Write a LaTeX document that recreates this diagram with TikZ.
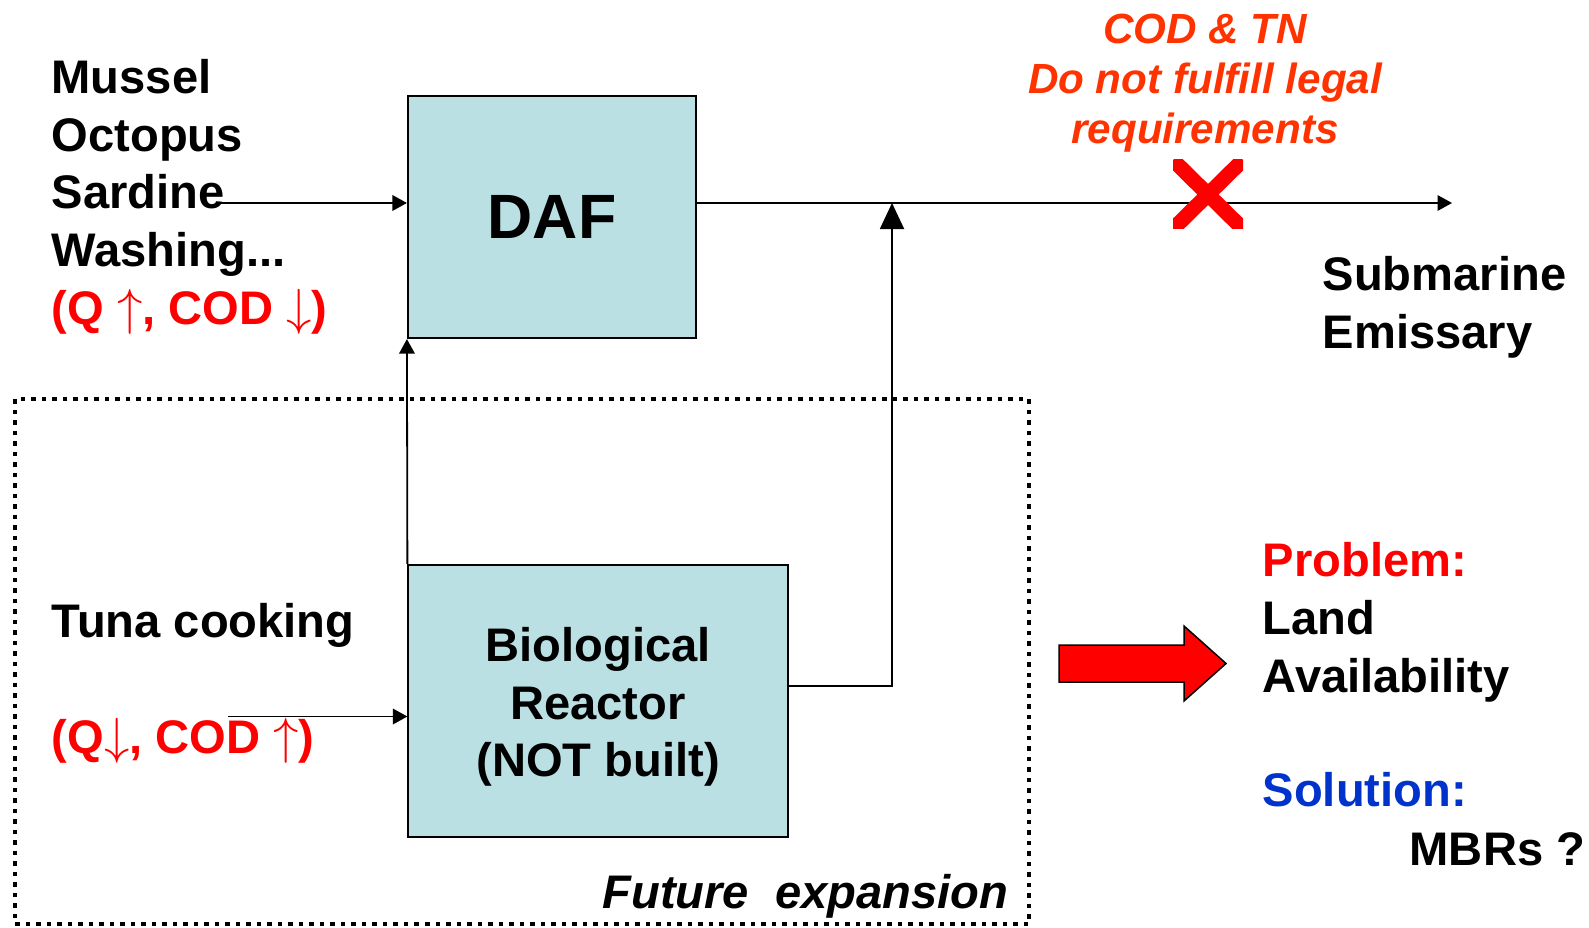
\documentclass[tikz,border=0pt]{standalone}
\usepackage{fontspec}
\setmainfont{Liberation Sans}
\usetikzlibrary{arrows.meta,positioning}
\definecolor{tankblue}{RGB}{186,224,228}
\definecolor{alarmred}{RGB}{255,51,0}
\definecolor{okblue}{RGB}{0,51,204}
\tikzset{
	>={Triangle[length=0.145cm,width=0.155cm]},
	-big/.style={-{Triangle[length=0.26cm,width=0.24cm]}},
	flow/.style={line width=0.018cm},
	tank/.style={draw,rectangle,fill=tankblue,line width=0.02cm,inner sep=0pt,align=center},
	txt/.style={inner sep=0pt,font=\bfseries\fontsize{13.4}{16.4}\selectfont},
	slanted/.style={inner sep=0pt,font=\bfseries\itshape\fontsize{13.4}{16.4}\selectfont},
	dotframe/.style={line width=0.045cm,dash pattern=on 0.045cm off 0.06cm},
	bigarrow/.style={draw,fill=red,line width=0.015cm},
	cross/.style={red,line width=0.15cm}
}
\begin{document}
\begin{tikzpicture}[x=0.01cm,y=-0.01cm]
			\useasboundingbox (0,0) rectangle (1589,928);
			\node[tank,minimum width=2.88cm,minimum height=2.42cm,font=\bfseries\fontsize{17.8}{20}\selectfont] (daf) at (552,217) {DAF};
			\node[tank,txt,minimum width=3.79cm,minimum height=2.72cm] (bio) at (598,701) {\rule{0pt}{0.46cm}Biological\\Reactor\\(NOT built)};
			\node[txt,anchor=north west,align=left] (catch) at (51,58.5) {Mussel\\Octopus\\Sardine\\Washing...\\\textcolor{red}{(Q $\uparrow$, COD $\downarrow$)}};
			\node[txt,anchor=base west] (tuna) at (51,637) {Tuna cooking};
			\node[txt,anchor=base west,text=red] (tunaflow) at (51,753) {(Q$\downarrow$, COD $\uparrow$)};
			\node[slanted,anchor=base east] (expansion) at (1009,908) {Future\ \ expansion};
			\node[slanted,anchor=north,align=center,text=alarmred,font=\bfseries\itshape\fontsize{12}{14.2}\selectfont] (limits) at (1205,13) {COD \& TN\\Do not fulfill legal\\requirements};
			\node[txt,anchor=north west,align=left] (outfall) at (1322,256) {Submarine\\Emissary};
			\node[txt,anchor=north west,align=left] (problem) at (1262,542) {\textcolor{red}{Problem:}\\Land\\Availability};
			\node[txt,anchor=base west,text=okblue] (solution) at (1262,806.5) {Solution:};
			\node[txt,anchor=base west] (mbr) at (1409,865) {MBRs ?};
			\coordinate (catchin) at (220,203);
			\coordinate (tunain) at (228,716.5);
			\coordinate (join) at (892,203);
			\coordinate (bioout) at ([yshift=0.15cm]bio.east);
			\coordinate (sea) at (1452,203);
			\draw[dotframe] (15,399) rectangle (1029,924);
			\draw[flow,->] (catchin) -- (catchin -| daf.west);
			\draw[flow,->] (tunain) -- (tunain -| bio.west);
			\draw[flow,->] (bio.north west) -- (daf.south west);
			\draw[flow,-big] (bioout) -| (join);
			\draw[flow,->] (join -| daf.east) -- (sea);
			\begin{scope}
				\clip (1173,160) rectangle (1243,229);
				\draw[cross] (1173,160) -- (1243,229) (1243,160) -- (1173,229);
			\end{scope}
			\draw[bigarrow] (1059,645) -- (1184,645) -- (1184,626) -- (1226,663.5) -- (1184,701) -- (1184,682) -- (1059,682) -- cycle;
		\end{tikzpicture}
\end{document}
